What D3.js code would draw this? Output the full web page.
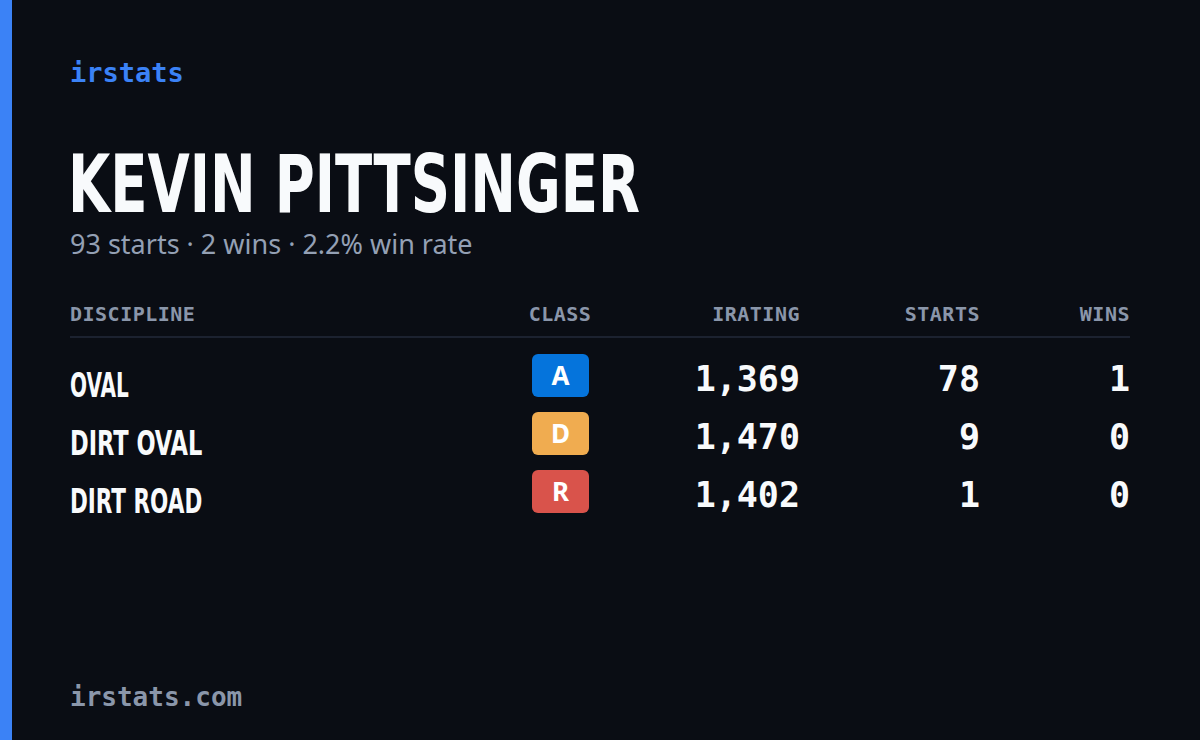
<!DOCTYPE html>
<html><head><meta charset="utf-8">
<script src="https://cdn.jsdelivr.net/npm/d3@7"></script>
<style>body{margin:0;background:#0a0d14}</style>
</head><body>
<svg id="card" width="1200" height="740"></svg>
<script>
var disciplines = ["OVAL", "DIRT OVAL", "DIRT ROAD"];
var classes = ["A", "D", "R"];
var iratings = [1369, 1470, 1402];
var starts = [78, 9, 1];
var wins = [1, 0, 0];
var headers = ["DISCIPLINE", "CLASS", "IRATING", "STARTS", "WINS"];
var totals = {starts: 93, wins: 2, winRate: 0.022};
var classColor = {A: "#0574dc", D: "#f0ac50", R: "#d9534b"};

var svg = d3.select("svg#card");
var mono = "'DejaVu Sans Mono', 'Liberation Mono', monospace";
var cond = "'DejaVu Sans Condensed', 'DejaVu Sans', sans-serif";

svg.append("rect").attr("width", 1200).attr("height", 740).attr("fill", "#0a0d14");
svg.append("rect").attr("width", 12).attr("height", 740).attr("fill", "#3b82f6");

svg.append("text").attr("x", 70).attr("y", 82).attr("fill", "#3b82f6")
  .attr("font-family", mono).attr("font-weight", "bold").attr("font-size", 27).text("irstats");

svg.append("text").attr("x", 68).attr("y", 212).attr("fill", "#f8fafc")
  .attr("font-family", cond).attr("font-weight", "bold").attr("font-size", 80)
  .attr("textLength", 572).attr("lengthAdjust", "spacingAndGlyphs")
  .text("KEVIN PITTSINGER");

svg.append("text").attr("x", 70).attr("y", 254).attr("fill", "#94a0b4")
  .attr("font-family", "'Noto Sans', sans-serif").attr("font-size", 27)
  .text(totals.starts + " starts · " + totals.wins + " wins · " + d3.format(".1%")(totals.winRate) + " win rate");

// columns: x position and anchor
var cols = [{x: 70, a: "start"}, {x: 560, a: "middle"}, {x: 800, a: "end"}, {x: 980, a: "end"}, {x: 1130, a: "end"}];

svg.append("g").selectAll("text").data(headers).enter().append("text")
  .attr("x", function(d, i) { return cols[i].x; })
  .attr("y", 321)
  .attr("text-anchor", function(d, i) { return cols[i].a; })
  .attr("fill", "#8a96aa").attr("font-family", mono).attr("font-weight", "bold").attr("font-size", 20)
  .attr("letter-spacing", 0.5).text(function(d) { return d; });

svg.append("line").attr("x1", 70).attr("x2", 1130).attr("y1", 337).attr("y2", 337)
  .attr("stroke", "#1c2230").attr("stroke-width", 2);

var y = d3.scaleBand().domain(disciplines).range([347, 521]);

var row = svg.append("g").selectAll("g").data(disciplines).enter().append("g")
  .attr("transform", function(d) { return "translate(0," + (y(d) + y.bandwidth() / 2) + ")"; });

row.append("text").attr("x", 70).attr("y", 21).attr("fill", "#f8fafc")
  .attr("font-family", cond).attr("font-weight", "bold").attr("font-size", 33)
  .attr("textLength", function(d) { return d.length * 14.7; }).attr("lengthAdjust", "spacingAndGlyphs")
  .text(function(d) { return d; });

row.append("rect").attr("x", 532).attr("y", -22).attr("width", 57).attr("height", 43).attr("rx", 6)
  .attr("fill", function(d, i) { return classColor[classes[i]]; });
row.append("text").attr("x", 560.5).attr("y", 9).attr("text-anchor", "middle")
  .attr("fill", "#fff").attr("font-family", "'Noto Sans', sans-serif").attr("font-weight", "bold")
  .attr("font-size", 26).text(function(d, i) { return classes[i]; });

var nums = [iratings.map(d3.format(",")), starts, wins];
nums.forEach(function(arr, k) {
  row.append("text").attr("x", cols[k + 2].x).attr("y", 15).attr("text-anchor", "end")
    .attr("fill", "#f8fafc").attr("font-family", mono).attr("font-weight", "bold").attr("font-size", 35)
    .text(function(d, i) { return arr[i]; });
});

svg.append("text").attr("x", 70).attr("y", 706).attr("fill", "#8a96aa")
  .attr("font-family", mono).attr("font-weight", "bold").attr("font-size", 26).text("irstats.com");
</script>
</body></html>
